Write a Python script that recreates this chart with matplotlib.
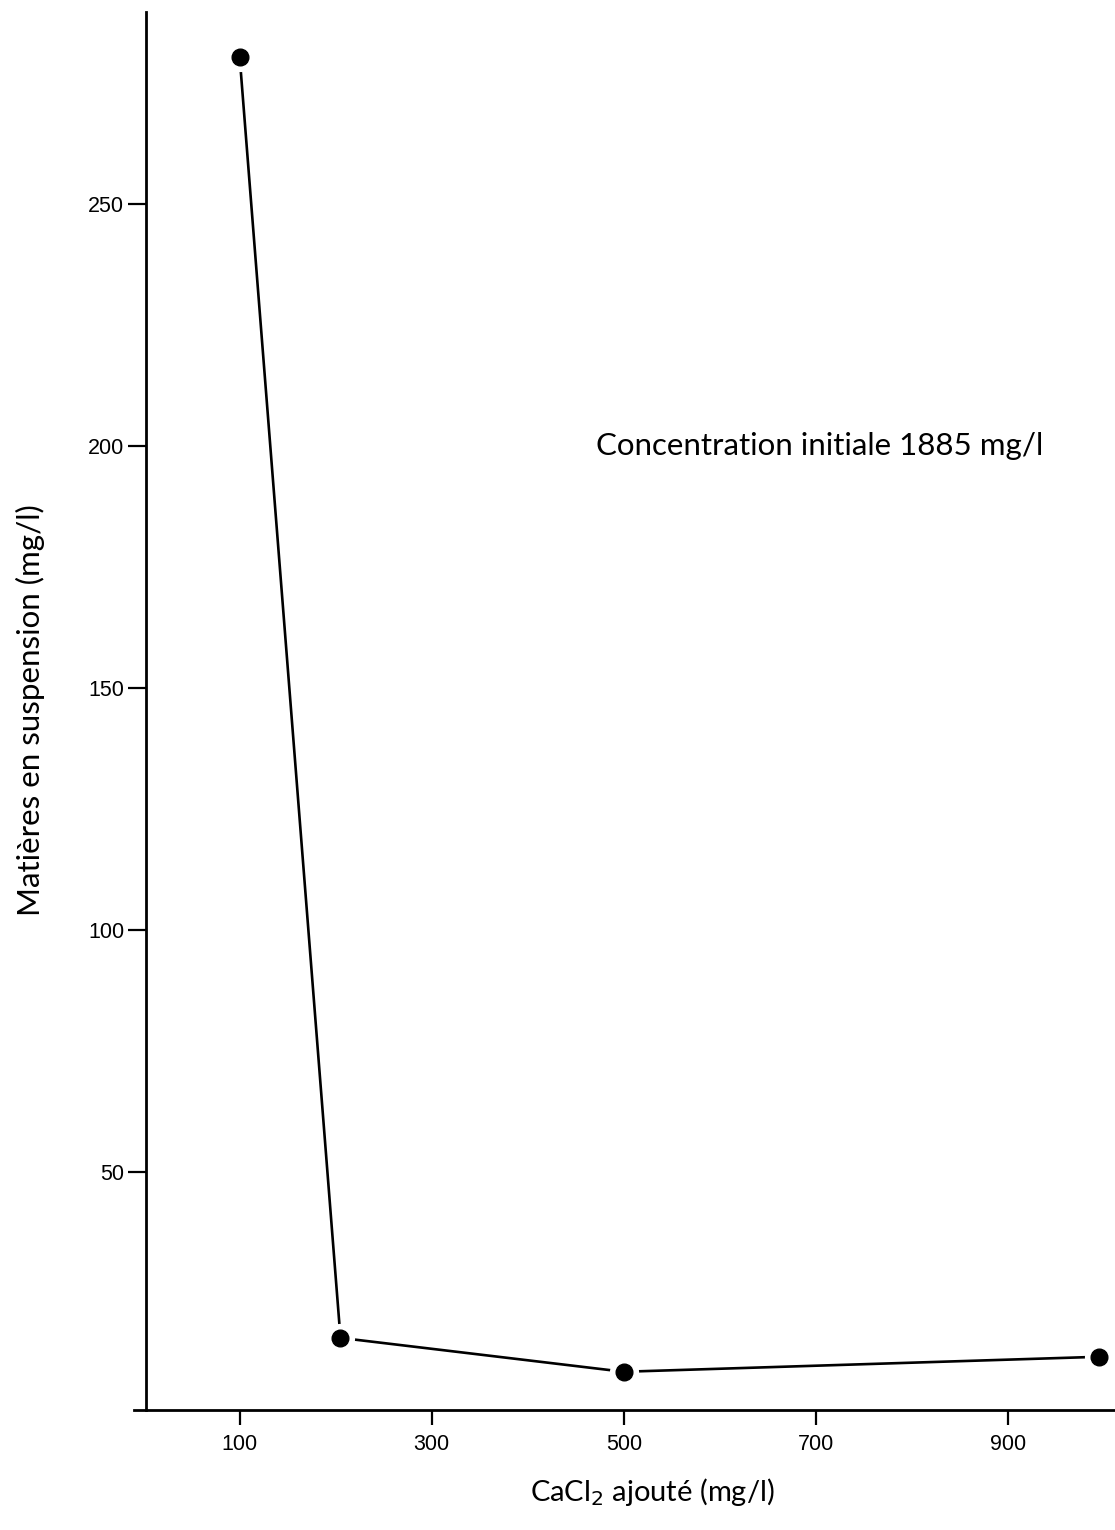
import matplotlib
matplotlib.use("Agg")
import matplotlib.pyplot as plt

cacl2 = [100, 205, 500, 995]
mes = [280.5, 15.7, 8.7, 11.8]
xticks = [100, 300, 500, 700, 900]
yticks = [50, 100, 150, 200, 250]

fig = plt.figure(figsize=(11.15, 15.3), dpi=100)
ax = fig.add_axes([134/1115, 120/1530, 1 - 134/1115, (1410-12)/1530])
ax.set_xlim(-10, 1011.5)
ax.set_ylim(0.8, 289.7)

ax.plot(cacl2, mes, color="black", lw=1.9, zorder=2, solid_capstyle="butt")
ax.plot(cacl2, mes, "o", ms=20, mfc="white", mec="white", zorder=3, clip_on=False)
ax.plot(cacl2, mes, "o", ms=12, mfc="black", mec="black", zorder=4, clip_on=False)

for s in ["top", "right"]:
    ax.spines[s].set_visible(False)
ax.spines["left"].set_position(("data", 3))
ax.spines["left"].set_linewidth(2)
ax.spines["bottom"].set_linewidth(2)

ax.set_xticks(xticks)
ax.set_yticks(yticks)
ax.tick_params(axis="both", direction="out", width=1.6,
               labelsize=15.5, labelfontfamily="Liberation Sans")
ax.tick_params(axis="y", length=13, pad=3)
ax.tick_params(axis="x", length=11, pad=6)

ax.text(471, 200, "Concentration initiale 1885 mg/l", fontsize=22.5,
        family="Lato", ha="left", va="center")

fig.text(652/1115, 1 - 1492/1530, r"CaCl$_2$ ajouté (mg/l)", fontsize=21,
         family="Lato", ha="center", va="center")
fig.text(30/1115, 1 - 710/1530, "Matières en suspension (mg/l)", fontsize=22.5,
         family="Lato", ha="center", va="center", rotation=90)

fig.savefig("out.png", dpi=100)
